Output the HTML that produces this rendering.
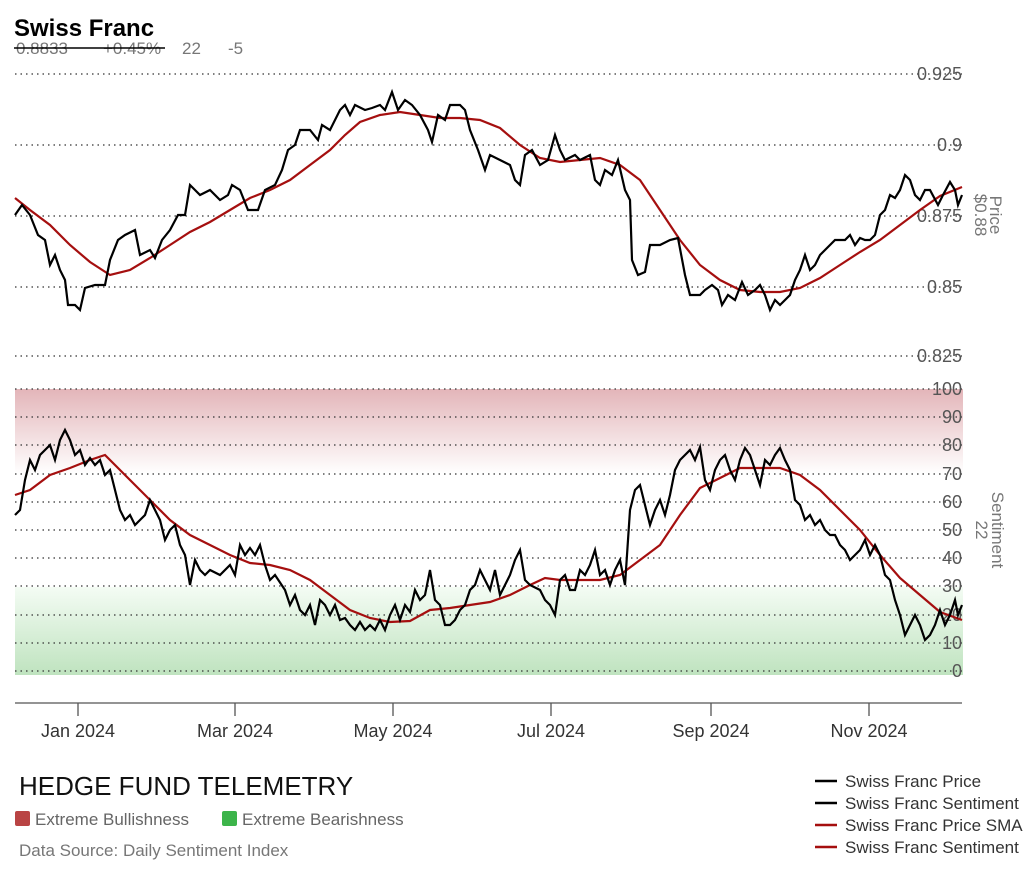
<!DOCTYPE html>
<html><head><meta charset="utf-8"><style>
body{margin:0;background:#fff;width:1024px;height:878px;overflow:hidden;font-family:"Liberation Sans",sans-serif}
</style></head><body>
<svg width="1024" height="878" xmlns="http://www.w3.org/2000/svg" font-family="Liberation Sans, sans-serif">
<defs>
<linearGradient id="rg" x1="0" y1="0" x2="0" y2="1"><stop offset="0" stop-color="#e3b5b9"/><stop offset="1" stop-color="#fff"/></linearGradient>
<linearGradient id="gg" x1="0" y1="0" x2="0" y2="1"><stop offset="0" stop-color="#f4fcf4"/><stop offset="1" stop-color="#bfe3bf"/></linearGradient>
</defs>
<rect x="15" y="389" width="948" height="85" fill="url(#rg)"/>
<rect x="15" y="587" width="948" height="88" fill="url(#gg)"/>
<g stroke="#333" stroke-width="1.3" stroke-dasharray="1.5,4">
<line x1="15" y1="74" x2="962" y2="74"/><line x1="15" y1="145" x2="962" y2="145"/><line x1="15" y1="216" x2="962" y2="216"/><line x1="15" y1="287" x2="962" y2="287"/><line x1="15" y1="356" x2="962" y2="356"/>
<line x1="15" y1="389" x2="962" y2="389"/><line x1="15" y1="417" x2="962" y2="417"/><line x1="15" y1="445" x2="962" y2="445"/><line x1="15" y1="474" x2="962" y2="474"/><line x1="15" y1="502" x2="962" y2="502"/><line x1="15" y1="530" x2="962" y2="530"/><line x1="15" y1="558" x2="962" y2="558"/><line x1="15" y1="586" x2="962" y2="586"/><line x1="15" y1="615" x2="962" y2="615"/><line x1="15" y1="643" x2="962" y2="643"/><line x1="15" y1="671" x2="962" y2="671"/>
</g>
<g font-size="18" fill="#555" text-anchor="end">
<text x="962" y="80">0.925</text><text x="962" y="151">0.9</text><text x="962" y="222">0.875</text><text x="962" y="293">0.85</text><text x="962" y="362">0.825</text>
<text x="962" y="395">100</text><text x="962" y="423">90</text><text x="962" y="451">80</text><text x="962" y="480">70</text><text x="962" y="508">60</text><text x="962" y="536">50</text><text x="962" y="564">40</text><text x="962" y="592">30</text><text x="962" y="621">20</text><text x="962" y="649">10</text><text x="962" y="677">0</text>
</g>
<g font-size="17" fill="#777" text-anchor="middle">
<text transform="translate(990,215) rotate(90)">Price</text><text transform="translate(975,215) rotate(90)">$0.88</text>
<text transform="translate(992,530) rotate(90)">Sentiment</text><text transform="translate(976,530) rotate(90)">22</text>
</g>
<polyline fill="none" stroke="#a50f0f" stroke-width="2.2" points="15,198 30,210 50,225 70,245 90,262 110,275 130,270 150,258 170,245 190,232 210,222 230,210 250,198 270,190 290,180 310,165 330,150 345,135 360,122 380,115 400,112 420,115 440,118 460,118 480,120 500,128 520,145 540,158 560,162 580,160 600,158 620,165 640,180 660,210 680,240 700,265 720,280 740,290 760,292 780,292 800,288 820,278 840,265 860,252 880,240 900,225 920,210 940,196 962,187"/>
<polyline fill="none" stroke="#000" stroke-width="2.2" points="15,215 22,205 30,215 38,235 45,240 50,265 55,255 60,270 65,280 68,305 75,305 80,310 85,288 95,285 105,285 110,260 118,240 125,235 135,230 140,255 150,250 155,258 162,240 170,230 178,215 185,215 190,185 195,190 200,195 210,190 220,200 228,195 232,185 240,190 248,210 258,210 265,190 275,185 282,170 288,150 295,145 300,130 310,130 318,140 322,125 330,130 340,110 345,105 350,115 355,105 365,110 372,108 380,105 385,110 392,92 398,110 405,100 412,105 420,115 428,130 432,142 438,115 445,120 450,105 460,105 465,110 470,130 478,150 485,170 490,155 500,160 510,165 515,180 520,185 525,155 532,150 540,165 548,160 555,135 560,150 565,160 575,155 580,160 590,155 595,180 600,185 605,170 612,175 618,160 625,190 630,200 632,260 638,275 645,272 650,245 660,245 670,240 678,238 685,275 690,295 700,295 705,290 712,285 718,290 722,305 728,295 735,300 742,282 748,295 755,290 760,285 765,295 770,310 775,300 780,305 790,295 795,280 800,270 805,255 810,270 815,265 820,255 825,250 830,245 835,240 845,240 850,235 855,245 860,238 865,240 870,240 875,235 880,215 885,210 890,195 895,198 900,190 905,175 910,180 915,195 920,200 925,190 930,190 938,205 943,195 950,182 955,190 958,205 962,195"/>
<polyline fill="none" stroke="#a50f0f" stroke-width="2.2" points="15,495 30,490 50,475 70,468 90,460 105,455 115,465 130,480 150,500 170,520 190,535 210,545 230,555 250,563 270,565 290,570 310,580 330,595 350,610 370,618 390,622 410,621 430,610 450,608 470,605 490,602 510,595 530,585 545,578 560,580 580,580 600,580 620,575 640,560 660,545 680,515 700,488 720,478 740,468 760,468 780,468 800,475 820,490 840,510 860,530 880,555 900,578 920,595 940,612 962,620"/>
<polyline fill="none" stroke="#000" stroke-width="2.2" points="15,515 20,510 25,480 30,460 35,470 40,455 45,450 50,445 55,460 60,440 65,430 70,440 75,455 80,450 85,465 90,458 95,465 100,460 105,475 110,470 115,490 120,510 125,520 130,515 135,525 140,520 145,515 150,500 155,510 160,520 165,540 170,530 175,525 180,545 185,555 190,585 195,560 200,570 205,575 210,570 220,575 230,565 235,575 240,545 245,555 250,548 255,555 260,545 265,565 270,580 275,575 285,590 290,605 295,595 300,610 305,615 310,605 315,625 320,600 325,605 330,615 335,605 340,620 345,618 350,625 355,630 360,622 365,630 370,625 375,630 380,620 385,630 390,615 395,605 400,620 405,605 410,612 415,590 420,600 425,595 430,570 435,600 440,605 445,625 450,625 455,620 460,610 465,605 470,590 475,585 480,570 485,580 490,590 495,570 500,595 505,585 510,575 515,560 520,550 525,580 530,585 540,590 545,600 550,605 555,615 560,580 565,575 570,590 575,590 580,570 585,575 590,565 595,550 600,575 605,570 610,585 615,570 620,560 625,585 630,510 635,490 640,485 645,505 650,525 655,510 660,500 665,515 670,495 675,470 680,460 685,455 690,450 695,460 700,447 705,480 710,490 715,470 720,460 725,455 730,470 735,480 740,460 745,448 750,455 755,470 760,485 765,460 770,465 775,455 780,448 785,460 790,470 795,500 800,505 805,520 810,515 815,525 820,520 825,530 830,535 835,535 840,545 845,550 850,560 855,555 860,550 865,540 870,555 875,545 880,555 885,575 890,580 895,600 900,615 905,635 910,625 915,615 920,625 925,640 930,635 935,625 940,610 945,625 950,615 955,600 958,615 962,605"/>
<line x1="15" y1="703" x2="962" y2="703" stroke="#555" stroke-width="1.3"/>
<g stroke="#555" stroke-width="1.3"><line x1="78" y1="703" x2="78" y2="716"/><line x1="235" y1="703" x2="235" y2="716"/><line x1="393" y1="703" x2="393" y2="716"/><line x1="551" y1="703" x2="551" y2="716"/><line x1="711" y1="703" x2="711" y2="716"/><line x1="869" y1="703" x2="869" y2="716"/></g>
<g font-size="18" fill="#333" text-anchor="middle">
<text x="78" y="737">Jan 2024</text><text x="235" y="737">Mar 2024</text><text x="393" y="737">May 2024</text><text x="551" y="737">Jul 2024</text><text x="711" y="737">Sep 2024</text><text x="869" y="737">Nov 2024</text>
</g>
<text x="14" y="36" font-size="24" font-weight="bold" fill="#000">Swiss Franc</text>
<g font-size="17" fill="#777"><text x="16" y="54">0.8833</text><text x="103" y="54">+0.45%</text><text x="182" y="54">22</text><text x="228" y="54">-5</text></g>
<line x1="14" y1="48" x2="165" y2="48" stroke="#000" stroke-width="1.5"/>
<text x="19" y="795" font-size="26" fill="#111">HEDGE FUND TELEMETRY</text>
<rect x="15" y="811" width="15" height="15" rx="2" fill="#b94444"/>
<text x="35" y="825" font-size="17" fill="#666">Extreme Bullishness</text>
<rect x="222" y="811" width="15" height="15" rx="2" fill="#3cb44a"/>
<text x="242" y="825" font-size="17" fill="#666">Extreme Bearishness</text>
<text x="19" y="856" font-size="17" fill="#777">Data Source: Daily Sentiment Index</text>
<g font-size="17" fill="#333">
<line x1="815" y1="781" x2="837" y2="781" stroke="#000" stroke-width="2.5"/><text x="845" y="787">Swiss Franc Price</text>
<line x1="815" y1="803" x2="837" y2="803" stroke="#000" stroke-width="2.5"/><text x="845" y="809">Swiss Franc Sentiment</text>
<line x1="815" y1="825" x2="837" y2="825" stroke="#a50f0f" stroke-width="2.5"/><text x="845" y="831">Swiss Franc Price SMA</text>
<line x1="815" y1="847" x2="837" y2="847" stroke="#a50f0f" stroke-width="2.5"/><text x="845" y="853">Swiss Franc Sentiment SMA</text>
</g>
</svg>
</body></html>
